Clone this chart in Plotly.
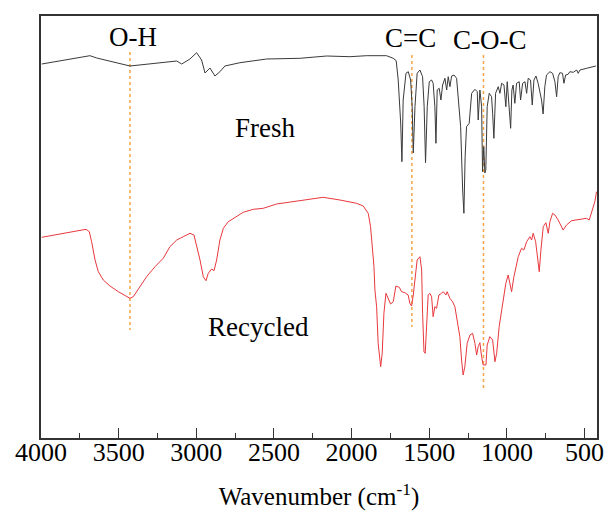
import plotly.graph_objects as go

# ---------------- data (wavenumber in cm^-1, transmittance in a.u.) ----------------
fresh_wn = [3995, 3878, 3685, 3641, 3427, 3126, 3094, 3041, 2998, 2966, 2944, 2912, 2880, 2848,
            2816, 2719, 2635, 2547, 2333, 2161, 2011, 1903, 1775, 1732, 1713, 1700, 1684, 1676,
            1668, 1650, 1635, 1620, 1610, 1603, 1592, 1578, 1560, 1543, 1533, 1524, 1513, 1500,
            1485, 1475, 1464, 1457, 1449, 1436, 1425, 1414, 1399, 1388, 1378, 1367, 1356, 1341,
            1324, 1311, 1298, 1285, 1277, 1269, 1260, 1243, 1227, 1206, 1191, 1185, 1174, 1163,
            1157, 1149, 1142, 1136, 1127, 1114, 1099, 1092, 1084, 1073, 1056, 1045, 1034, 1019,
            1007, 998, 985, 976, 968, 960, 949, 938, 921, 912, 899, 884, 873, 863, 848, 837, 826,
            813, 799, 788, 777, 767, 756, 745, 723, 706, 691, 680, 670, 659, 642, 633, 622, 606,
            595, 573, 551, 541, 530, 487, 445, 427]
fresh_t = [374, 377, 382.3, 380, 372, 377, 374, 379, 385.3, 378, 365, 370, 362, 366.3,
           372, 375.3, 377.3, 379, 379.7, 382, 381.3, 382.3, 382.3, 379.7, 377.3, 358, 315, 276.3,
           338, 364.7, 366.3, 358, 331.3, 285, 331.3, 364.7, 368, 361.3, 331.3, 275.3, 331.3, 356.3,
           358, 354.7, 331.3, 294.7, 348, 349.7, 338, 353, 359.7, 348, 361.3, 351.3, 362, 363,
           359.7, 338, 311.3, 248, 224.7, 281.3, 311.3, 314.7, 344.7, 348.7, 346.3, 318, 348, 331.3,
           266.3, 291.3, 265, 268, 331.3, 344.7, 341.3, 324.7, 299.7, 344.7, 351.3, 344.7, 354.7, 353,
           331.3, 356.3, 331.3, 309.7, 348, 353, 334.7, 354.7, 356.3, 338, 354.7, 356.3, 344.7, 359.7,
           358, 333, 358, 362, 354.7, 344.7, 338, 324, 351.3, 363, 366.3, 364.7, 356.3, 341.3, 361.3,
           365.3, 364.7, 354.7, 363, 363.7, 366.3, 365.7, 368, 364.7, 368, 369.7, 371.3, 372]

recycled_wn = [3995, 3856, 3749, 3710, 3689, 3674, 3652, 3631, 3599, 3556, 3502, 3448, 3427, 3406,
               3363, 3320, 3266, 3213, 3170, 3126, 3084, 3041, 3015, 2998, 2976, 2955, 2938, 2923,
               2901, 2886, 2869, 2848, 2826, 2794, 2740, 2698, 2633, 2569, 2483, 2376, 2268, 2183,
               2075, 1968, 1925, 1893, 1878, 1865, 1856, 1850, 1839, 1829, 1813, 1803, 1792, 1779,
               1764, 1749, 1732, 1715, 1693, 1678, 1657, 1636, 1625, 1614, 1603, 1592, 1578, 1560,
               1549, 1543, 1534, 1526, 1517, 1507, 1496, 1485, 1475, 1464, 1453, 1438, 1421, 1410,
               1393, 1385, 1367, 1350, 1335, 1320, 1303, 1292, 1282, 1271, 1256, 1238, 1221, 1206,
               1195, 1185, 1174, 1163, 1153, 1135, 1127, 1110, 1092, 1077, 1066, 1050, 1028, 1007,
               992, 970, 955, 927, 906, 891, 873, 852, 841, 831, 815, 805, 792, 781, 766, 749, 734,
               723, 706, 691, 670, 638, 616, 584, 530, 487, 470, 455, 434, 423]
recycled_t = [200.7, 204.7, 208, 208.7, 206.3, 196.3, 178, 166.3, 158, 152, 146.3, 141.3, 139.7, 141.3,
              151.3, 161.3, 171.3, 179.7, 191.3, 198, 201.3, 204.7, 203, 193, 178, 161.3, 157.3, 164.7,
              169, 167.3, 178, 198, 209.7, 216.3, 221.3, 225.7, 228.7, 229.7, 234, 236.3, 238.7, 240.7,
              238, 234.7, 232, 224.7, 211.3, 191.3, 171.3, 148, 131.3, 94.7, 71.3, 84.7, 124.7, 144.7,
              139.7, 134, 136.3, 152, 150.7, 146.3, 145.3, 143, 134.7, 132, 143, 161.3, 178, 181.3,
              168, 124.7, 86.3, 84.7, 118, 143, 144.7, 141.3, 121.3, 131.3, 129.7, 143, 144.7, 146.3,
              143, 146.3, 139.7, 136.3, 131.3, 118, 101.3, 78, 63, 71.3, 94.7, 103, 104.7, 94.7,
              83, 91.3, 95.3, 81.3, 73, 73, 93, 101.3, 98, 76.3, 84.7, 111.3, 134.7, 154.7,
              163, 146.3, 161.3, 181.3, 189.7, 188, 196.3, 201.3, 198, 204.7, 196.3, 181.3, 166.3, 188, 211.3, 215.3, 204.7,
              216.3, 224.7, 223, 218, 208, 213, 217.3, 218.7, 219.7, 218, 224.7, 236.3, 246.3]

band_wn = [3427, 1612, 1151]
band_top = [386, 383, 383]
band_bottom = [108, 111, 48]

label_text = ["O-H", "C=C", "C-O-C", "Fresh", "Recycled"]
label_wn = [3410, 1620, 1110, 2555, 2600]
label_t = [401, 400, 398, 310, 111]

x_ticks = [4000, 3500, 3000, 2500, 2000, 1500, 1000, 500]

FONT = "Liberation Serif, Times New Roman, serif"

fig = go.Figure()

for w, t0, t1 in zip(band_wn, band_top, band_bottom):
    fig.add_trace(go.Scatter(x=[w, w], y=[t0, t1], mode="lines",
                             line=dict(color="#F4A444", width=1.5, dash="3px,3px"),
                             showlegend=False, hoverinfo="skip"))

fig.add_trace(go.Scatter(x=fresh_wn, y=fresh_t, mode="lines", name="Fresh",
                         line=dict(color="#3a3a3a", width=1), showlegend=False))
fig.add_trace(go.Scatter(x=recycled_wn, y=recycled_t, mode="lines", name="Recycled",
                         line=dict(color="#E8383D", width=1), showlegend=False))

for txt, w, t in zip(label_text, label_wn, label_t):
    fig.add_annotation(x=w, y=t, text=txt, showarrow=False,
                       font=dict(family=FONT, size=27, color="black"),
                       xanchor="center", yanchor="middle")

fig.update_layout(
    width=606, height=519,
    margin=dict(l=41, r=9, t=16, b=81),
    paper_bgcolor="white", plot_bgcolor="white",
    font=dict(family=FONT, size=26, color="black"),
    xaxis=dict(range=[4000, 420], tickvals=x_ticks, ticks="inside", ticklen=10,
               tickwidth=1.2, tickcolor="#333", ticklabelstandoff=-10, automargin=False,
               minor=dict(dtick=250, ticks="inside", ticklen=5, tickwidth=1, tickcolor="#333"),
               showline=True, linecolor="#333", linewidth=1.5, mirror=True,
               showgrid=False, zeroline=False,
               tickfont=dict(family=FONT, size=26, color="black"),
               title=dict(text="Wavenumber (cm<sup>-1</sup>)", standoff=22,
                          font=dict(family=FONT, size=25, color="black"))),
    yaxis=dict(range=[0, 422], showticklabels=False, ticks="", automargin=False,
               showline=True, linecolor="#333", linewidth=1.5, mirror=True,
               showgrid=False, zeroline=False),
)

fig.write_html("out.html")
